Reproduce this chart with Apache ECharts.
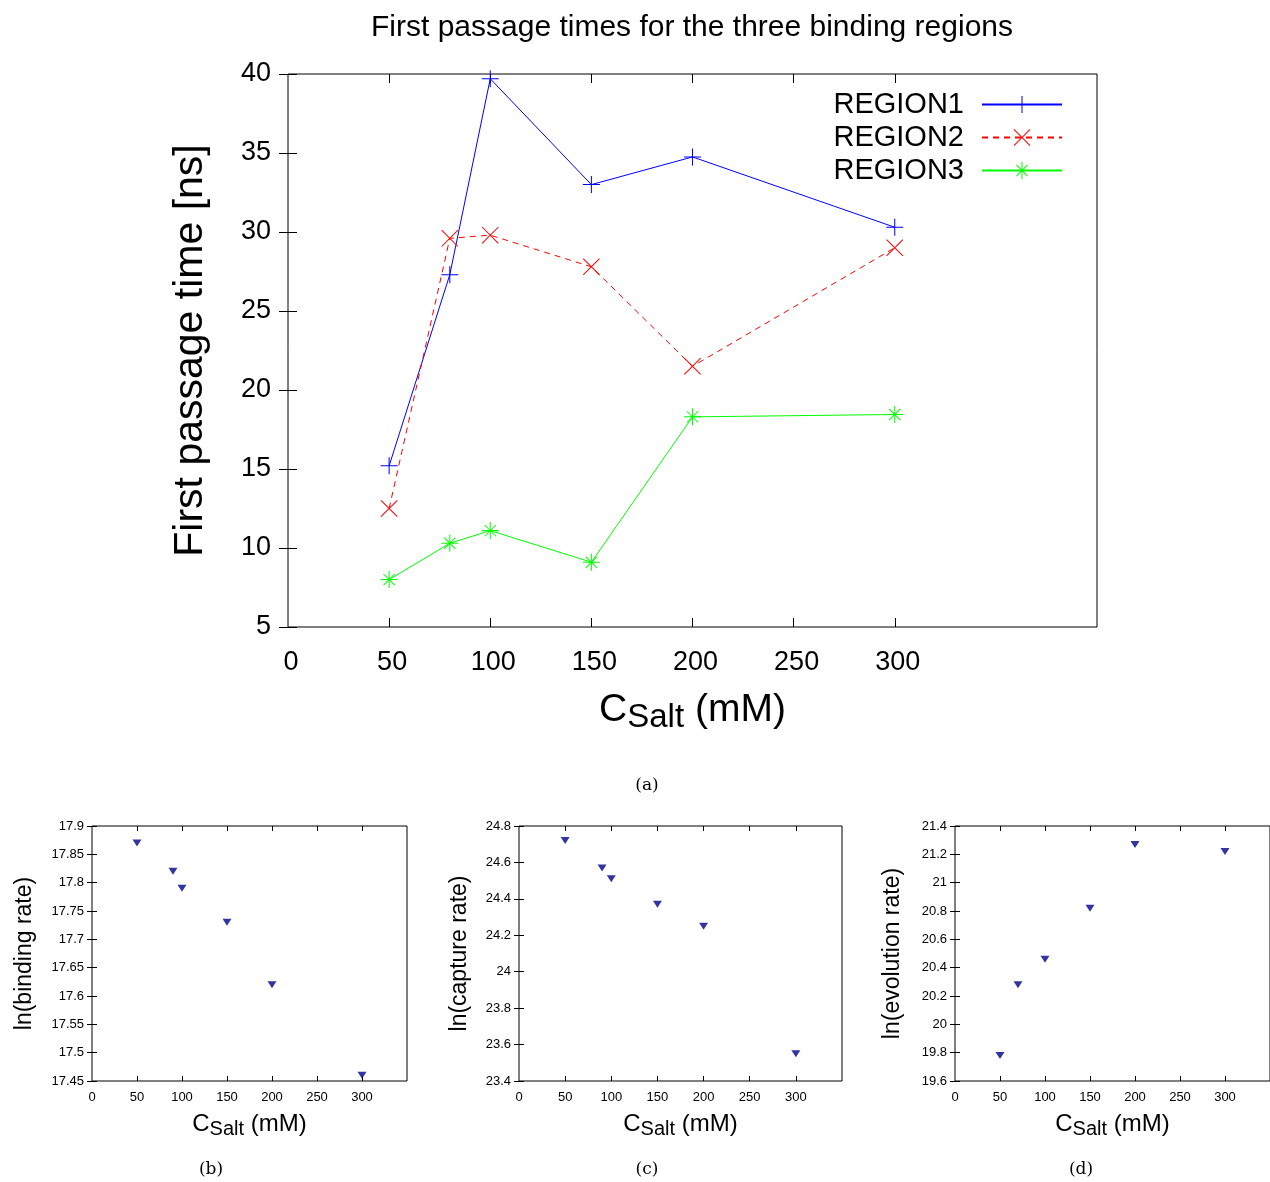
<!DOCTYPE html>
<html><head><meta charset="utf-8">
<script src="https://cdn.jsdelivr.net/npm/echarts@6/dist/echarts.min.js"></script>
<style>html,body{margin:0;padding:0;background:#fff}#c{width:1270px;height:1182px}</style>
</head><body><div id="c"></div>
<script>
// ---------- data ----------
const mainX = [50, 80, 100, 150, 200, 300];
const region1 = [15.2, 27.3, 39.7, 33.0, 34.75, 30.3];
const region2 = [12.5, 29.6, 29.8, 27.8, 21.5, 29.0];
const region3 = [8.0, 10.3, 11.1, 9.1, 18.3, 18.45];
const seriesNames = ['REGION1', 'REGION2', 'REGION3'];
const mainXLabels = [0, 50, 100, 150, 200, 250, 300];
const mainXTicks = [50, 100, 150, 200, 250, 300];

const bX = [50, 90, 100, 150, 200, 300];
const bindingRate = [17.87, 17.82, 17.79, 17.73, 17.62, 17.46];
const cX = [50, 90, 100, 150, 200, 300];
const captureRate = [24.72, 24.57, 24.51, 24.37, 24.25, 23.55];
const dX = [50, 70, 100, 150, 200, 300];
const evolutionRate = [19.78, 20.28, 20.46, 20.82, 21.27, 21.22];
const subXLabels = [0, 50, 100, 150, 200, 250, 300];
const subXTicks = [50, 100, 150, 200, 250, 300];

const mainTitle = 'First passage times for the three binding regions';
const mainYName = 'First passage time [ns]';
const subYNames = ['ln(binding rate)', 'ln(capture rate)', 'ln(evolution rate)'];
const captions = ['(a)', '(b)', '(c)', '(d)'];

// ---------- helpers ----------
const FONT = "'Liberation Sans', Arial, sans-serif";
const pair = (xs, ys) => xs.map((x, i) => [x, ys[i]]);

const grids = [
  {left: 288, top: 74, width: 809, height: 553},
  {left: 92, top: 826, width: 315, height: 255},
  {left: 519, top: 826, width: 323, height: 255},
  {left: 955, top: 826, width: 324, height: 255}
].map(g => Object.assign({show: true, borderColor: '#000', borderWidth: 1, backgroundColor: 'transparent', containLabel: false}, g));

const xAxes = [], yAxes = [];
function addX(gi, min, max, labels, ticks, fs, tickLen, margin, labelShift, nameCfg) {
  const common = {type: 'value', gridIndex: gi, min, max, splitLine: {show: false}, axisLine: {show: false},
    axisTick: {show: true, inside: true, length: tickLen, customValues: ticks, lineStyle: {color: '#000', width: 1}}};
  xAxes.push(Object.assign({}, common, {position: 'bottom',
    axisLabel: {show: true, customValues: labels, fontSize: fs, fontFamily: FONT, color: '#000', margin,
      padding: [0, 0, 0, labelShift]},
    name: nameCfg.name, nameLocation: 'middle', nameGap: nameCfg.gap,
    nameTextStyle: {rich: {
      c: {fontSize: nameCfg.big, fontFamily: FONT, color: '#000'},
      s: {fontSize: nameCfg.small, fontFamily: FONT, color: '#000', padding: [nameCfg.shift, 0, 0, 0]}
    }}}));
  xAxes.push(Object.assign({}, common, {position: 'top', axisLabel: {show: false}}));
}
function addY(gi, min, max, interval, fs, tickLen, margin, dec, name, nameFs, nameGap, labelDrop) {
  const common = {type: 'value', gridIndex: gi, min, max, interval, splitLine: {show: false}, axisLine: {show: false},
    axisTick: {show: true, inside: true, length: tickLen, lineStyle: {color: '#000', width: 1}}};
  yAxes.push(Object.assign({}, common, {position: 'left',
    axisLabel: {show: true, fontSize: fs, fontFamily: FONT, color: '#000', margin,
      padding: [labelDrop, 0, 0, 0],
      formatter: v => String(+(+v).toFixed(dec))},
    name, nameLocation: 'middle', nameGap, nameRotate: 90,
    nameTextStyle: {fontSize: nameFs, fontFamily: FONT, color: '#000'}}));
  yAxes.push(Object.assign({}, common, {position: 'right', axisLabel: {show: false}}));
}

const xName = '{c|C}{s|Salt}{c| (mM)}';
addX(0, 0, 400, mainXLabels, mainXTicks, 27, 9, 22, 6, {name: xName, gap: 60, big: 39, small: 33, shift: 14});
addY(0, 5, 40, 5, 27, 9, 17, 0, mainYName, 41, 77, 5);
addX(1, 0, 350, subXLabels, subXTicks, 13, 5, 10, 0, {name: xName, gap: 28, big: 24, small: 20, shift: 10});
addY(1, 17.45, 17.9, 0.05, 13, 5, 8, 2, subYNames[0], 23, 56, 0);
addX(2, 0, 350, subXLabels, subXTicks, 13, 5, 10, 0, {name: xName, gap: 28, big: 24, small: 20, shift: 10});
addY(2, 23.4, 24.8, 0.2, 13, 5, 8, 1, subYNames[1], 23, 48, 0);
addX(3, 0, 350, subXLabels, subXTicks, 13, 5, 10, 0, {name: xName, gap: 28, big: 24, small: 20, shift: 10});
addY(3, 19.6, 21.4, 0.2, 13, 5, 8, 1, subYNames[2], 23, 51, 0);

// thin filled glyph outlines (plus, cross, asterisk) in a 10x10 box
const plusPath = 'path://M0,4.7L10,4.7L10,5.3L0,5.3Z M4.7,0L5.3,0L5.3,10L4.7,10Z';
const crossPath = 'path://M0,0.4L0.4,0L10,9.6L9.6,10Z M0.4,10L0,9.6L9.6,0L10,0.4Z';
const starPath = 'path://M0,4.7L10,4.7L10,5.3L0,5.3Z M4.7,0L5.3,0L5.3,10L4.7,10Z ' +
  'M1.5,1.9L1.9,1.5L8.5,8.1L8.1,8.5Z M1.9,8.5L1.5,8.1L8.1,1.5L8.5,1.9Z';

function lineSeries(name, ys, color, symbol, dashed) {
  return {
    type: 'line', name, xAxisIndex: 0, yAxisIndex: 0, data: pair(mainX, ys),
    symbol, symbolSize: 17, showSymbol: true, animation: false,
    lineStyle: {color, width: 1, type: dashed ? [6, 5] : 'solid'},
    itemStyle: {color, borderWidth: 0},
    emphasis: {disabled: true}
  };
}
function scatterSeries(gi, xs, ys) {
  return {
    type: 'scatter', xAxisIndex: gi * 2, yAxisIndex: gi * 2, data: pair(xs, ys),
    symbol: 'triangle', symbolRotate: 180, symbolSize: [9, 7], animation: false,
    itemStyle: {color: '#00008b'}
  };
}

const captionPos = [[647, 786], [211, 1170], [647, 1170], [1081, 1170]];

const option = {
  backgroundColor: '#fff',
  animation: false,
  title: {text: mainTitle, left: 692, top: 13, textAlign: 'center', padding: 0,
    textStyle: {fontSize: 30, fontWeight: 'normal', fontFamily: FONT, color: '#000'}},
  legend: {
    data: seriesNames, orient: 'vertical', align: 'right', right: 207, top: 90, padding: 0,
    itemWidth: 80, itemHeight: 21, itemGap: 4,
    textStyle: {fontSize: 29, fontFamily: FONT, color: '#000', padding: [0, 13, 0, 0]}
  },
  grid: grids,
  xAxis: xAxes,
  yAxis: yAxes,
  series: [
    lineSeries(seriesNames[0], region1, '#0000ff', plusPath, false),
    lineSeries(seriesNames[1], region2, '#ff0000', crossPath, true),
    lineSeries(seriesNames[2], region3, '#00ff00', starPath, false),
    scatterSeries(1, bX, bindingRate),
    scatterSeries(2, cX, captureRate),
    scatterSeries(3, dX, evolutionRate)
  ],
  graphic: captions.map((t, i) => ({
    type: 'text', x: captionPos[i][0], y: captionPos[i][1],
    style: {text: t, align: 'center', verticalAlign: 'middle', font: "17px 'DejaVu Serif', serif", fill: '#000'}
  }))
};

const chart = echarts.init(document.getElementById('c'), null, {renderer: 'canvas'});
chart.setOption(option);
</script>
</body></html>
